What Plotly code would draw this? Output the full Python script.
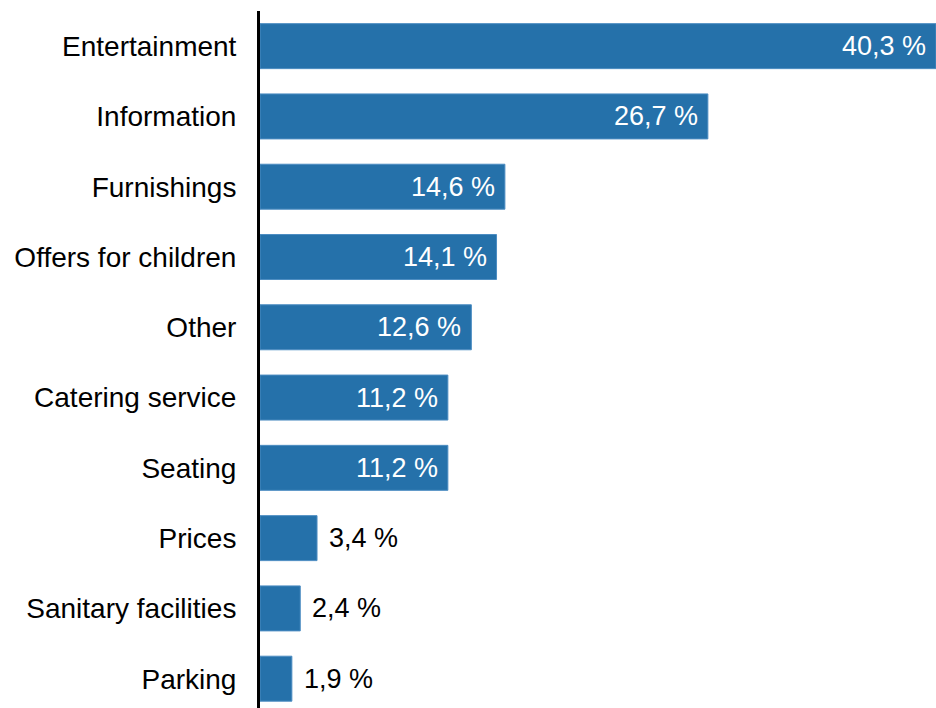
import plotly.graph_objects as go

categories = ["Entertainment", "Information", "Furnishings", "Offers for children",
              "Other", "Catering service", "Seating", "Prices",
              "Sanitary facilities", "Parking"]
shares = [40.3, 26.7, 14.6, 14.1, 12.6, 11.2, 11.2, 3.4, 2.4, 1.9]

BAR = "#2571aa"
FONT = "Liberation Sans, Arial, Helvetica, sans-serif"

fig = go.Figure(go.Bar(
    x=shares,
    y=categories,
    orientation="h",
    marker=dict(color=BAR, line=dict(color="#4d8dc2", width=1)),
    hoverinfo="skip",
))

# value labels: white inside long bars, black to the right of short ones
annotations = []
for cat, v in zip(categories, shares):
    label = f"{v:.1f}".replace(".", ",") + " %"
    inside = v > 5
    annotations.append(dict(
        x=v, y=cat, xref="x", yref="y",
        text=label, showarrow=False,
        xanchor="right" if inside else "left",
        xshift=-8 if inside else 10,
        font=dict(family=FONT, size=27, color="white" if inside else "black"),
    ))

fig.update_layout(
    width=936, height=708,
    margin=dict(l=260, r=0, t=11, b=0),
    paper_bgcolor="white", plot_bgcolor="white",
    bargap=0.36,
    showlegend=False,
    annotations=annotations,
    font=dict(family=FONT, size=28, color="black"),
    xaxis=dict(range=[0, 40.3], visible=False, fixedrange=True),
    yaxis=dict(
        categoryorder="array", categoryarray=categories,
        range=[9.417, -0.5],
        showline=True, linecolor="black", linewidth=3,
        showgrid=False, zeroline=False, ticks="",
        ticklabelstandoff=15,
        tickfont=dict(family=FONT, size=28, color="black"),
    ),
)

fig.write_html("out.html")
